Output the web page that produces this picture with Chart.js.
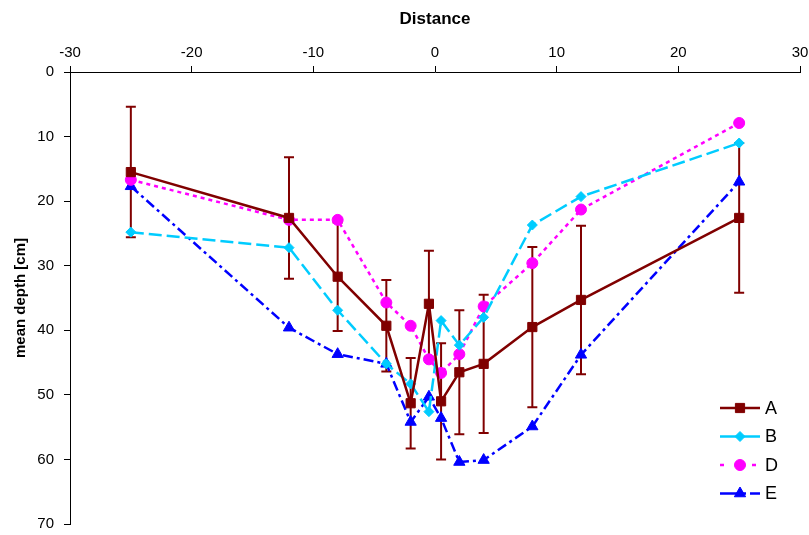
<!DOCTYPE html>
<html>
<head>
<meta charset="utf-8">
<script src="https://cdn.jsdelivr.net/npm/chart.js@4.4.1/dist/chart.umd.min.js"></script>
<style>
  html, body { margin: 0; padding: 0; background: #fff; }
  #wrap { width: 809px; height: 535px; }
</style>
</head>
<body>
<div id="wrap"><canvas id="chart"></canvas></div>
<script>
// distances (x) and mean depth values per series
const distances = [-25, -12, -8, -4, -2, -0.5, 0.5, 2, 4, 8, 12, 25];
const depthA = [15.5, 22.6, 31.7, 39.3, 51.3, 35.9, 51.0, 46.5, 45.2, 39.5, 35.3, 22.6];
const errorA = [10.1, 9.4, 8.4, 7.1, 7.0, 8.2, 9.0, 9.6, 10.7, 12.4, 11.5, 11.6];
const depthB = [24.8, 27.2, 36.9, 45.2, 48.3, 52.6, 38.5, 42.3, 38.0, 23.7, 19.3, 11.0];
const depthD = [16.7, 22.9, 22.9, 35.7, 39.3, 44.5, 46.6, 43.7, 36.3, 29.6, 21.3, 7.9];
const depthE = [17.7, 39.6, 43.7, 45.2, 54.2, 50.3, 53.6, 60.4, 60.1, 54.9, 43.8, 17.0];
const xTicks = [-30, -20, -10, 0, 10, 20, 30];
const yTicks = [0, 10, 20, 30, 40, 50, 60, 70];

const FONT = 'Liberation Sans, Arial, sans-serif';

function toPoints(values) {
    return distances.map((d, i) => ({ x: d, y: values[i] }));
}

// Vertical error bars for series A, drawn through the chart scales
const errorBarPlugin = {
    id: 'errorBars',
    beforeDatasetsDraw(chart) {
        const { ctx, scales } = chart;
        ctx.save();
        ctx.strokeStyle = '#800000';
        ctx.lineWidth = 2;
        distances.forEach((d, i) => {
            const px = scales.x.getPixelForValue(d);
            const top = scales.y.getPixelForValue(depthA[i] - errorA[i]);
            const bottom = scales.y.getPixelForValue(depthA[i] + errorA[i]);
            ctx.beginPath();
            ctx.moveTo(px, top);
            ctx.lineTo(px, bottom);
            ctx.moveTo(px - 5, top);
            ctx.lineTo(px + 5, top);
            ctx.moveTo(px - 5, bottom);
            ctx.lineTo(px + 5, bottom);
            ctx.stroke();
        });
        ctx.restore();
    }
};

// Legend with line samples and markers, bottom right
const lineLegendPlugin = {
    id: 'lineLegend',
    afterDraw(chart) {
        const { ctx } = chart;
        const x0 = 720, x1 = 760, startY = 408, step = 28.5;
        ctx.save();
        chart.data.datasets.forEach((ds, i) => {
            const y = startY + i * step;
            ctx.strokeStyle = ds.borderColor;
            ctx.lineWidth = ds.borderWidth;
            ctx.setLineDash(ds.legendDash);
            ctx.beginPath();
            ctx.moveTo(x0, y);
            ctx.lineTo(x1, y);
            ctx.stroke();
            ctx.setLineDash([]);
            ctx.fillStyle = ds.borderColor;
            ctx.lineWidth = 1;
            Chart.helpers.drawPoint(ctx, {
                pointStyle: ds.pointStyle,
                radius: ds.pointRadius,
                borderWidth: 1
            }, (x0 + x1) / 2, y);
            ctx.fillStyle = '#000';
            ctx.font = '18px ' + FONT;
            ctx.textBaseline = 'middle';
            ctx.textAlign = 'left';
            ctx.fillText(ds.label, x1 + 5, y + 1);
        });
        ctx.restore();
    }
};

function series(label, values, color, dash, legendDash, pointStyle, radius) {
    return {
        label,
        data: toPoints(values),
        showLine: true,
        borderColor: color,
        backgroundColor: color,
        borderWidth: 2.5,
        borderDash: dash,
        legendDash,
        pointStyle,
        pointRadius: radius,
        pointBorderColor: color,
        pointBackgroundColor: color,
        pointBorderWidth: 1,
        tension: 0
    };
}

const datasets = [
    series('A', depthA, '#800000', [], [], 'rect', 6.5),
    series('B', depthB, '#00ccff', [13, 5], [], 'rectRot', 5),
    series('D', depthD, '#ff00ff', [4, 4], [4, 12], 'circle', 5.5),
    series('E', depthE, '#0000ff', [10, 4, 3, 4], [26, 4, 10, 4], 'triangle', 6.5)
];

new Chart(document.getElementById('chart'), {
    type: 'scatter',
    data: { datasets },
    plugins: [errorBarPlugin, lineLegendPlugin],
    options: {
        responsive: true,
        maintainAspectRatio: false,
        animation: false,
        layout: { padding: { left: 0, right: 9, top: 0, bottom: 11 } },
        plugins: {
            legend: { display: false },
            tooltip: { enabled: false }
        },
        scales: {
            x: {
                type: 'linear',
                position: 'top',
                min: -30,
                max: 30,
                afterBuildTicks(scale) {
                    scale.ticks = xTicks.map(v => ({ value: v }));
                },
                afterFit(scale) {
                    scale.height = 72;
                    scale.paddingLeft = 0;
                    scale.paddingRight = 0;
                },
                title: {
                    display: true,
                    text: 'Distance',
                    color: '#000',
                    font: { family: FONT, size: 17, weight: 'bold' },
                    padding: { top: 9, bottom: 4 }
                },
                ticks: {
                    color: '#000',
                    font: { family: FONT, size: 15 },
                    padding: 4
                },
                grid: {
                    display: true,
                    drawOnChartArea: false,
                    drawTicks: true,
                    tickLength: 6,
                    color: '#000'
                },
                border: { display: true, color: '#000', width: 1 }
            },
            y: {
                type: 'linear',
                reverse: true,
                min: 0,
                max: 70,
                afterBuildTicks(scale) {
                    scale.ticks = yTicks.map(v => ({ value: v }));
                },
                afterFit(scale) {
                    scale.width = 70;
                    scale.paddingTop = 0;
                    scale.paddingBottom = 0;
                },
                title: {
                    display: true,
                    text: 'mean depth [cm]',
                    color: '#000',
                    font: { family: FONT, size: 15, weight: 'bold' },
                    padding: { top: 12, bottom: 4 }
                },
                ticks: {
                    color: '#000',
                    font: { family: FONT, size: 15 },
                    padding: 10
                },
                grid: {
                    display: true,
                    drawOnChartArea: false,
                    drawTicks: true,
                    tickLength: 6,
                    color: '#000'
                },
                border: { display: true, color: '#000', width: 1 }
            }
        }
    }
});
</script>
</body>
</html>
